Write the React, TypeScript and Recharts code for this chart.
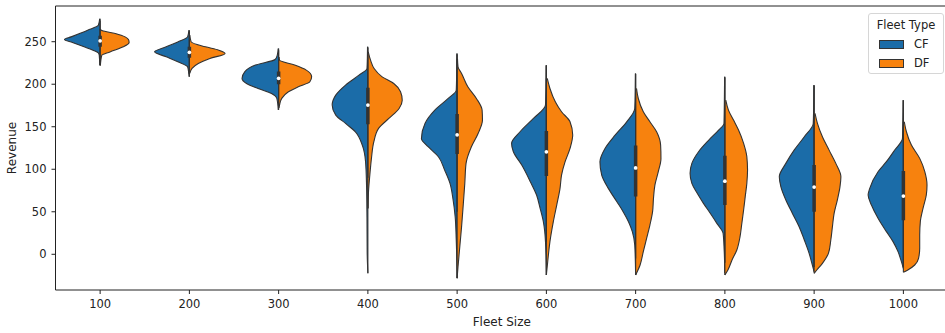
import {
  ComposedChart,
  Area,
  Line,
  Scatter,
  XAxis,
  YAxis,
  ZAxis,
  ReferenceLine,
  Legend,
} from "recharts";

const fleetSizes = [100, 200, 300, 400, 500, 600, 700, 800, 900, 1000];
const fleetTypes = ["CF", "DF"];
const revenueTicks = [0, 50, 100, 150, 200, 250];

// [revenue, half width as a share of one category step], read top to bottom
const cfProfiles: [number, number][][] = [
  [[277, 0.005], [269.4, 0.02], [263.6, 0.14], [259.7, 0.23], [255.7, 0.325], [252.6, 0.4], [249.1, 0.31], [244, 0.18], [240.1, 0.08], [236.9, 0.02], [234.2, 0.01], [222.4, 0.004]],
  [[263.6, 0.005], [255.7, 0.02], [249.8, 0.13], [244, 0.26], [238.1, 0.39], [232.3, 0.26], [226.4, 0.13], [220.5, 0.02], [214, 0.008], [208.7, 0.003]],
  [[242, 0.005], [234.2, 0.015], [229.1, 0.04], [222.5, 0.26], [214.6, 0.38], [206.8, 0.41], [200.9, 0.36], [195, 0.23], [189.2, 0.08], [183.3, 0.02], [169.6, 0.004]],
  [[244, 0.004], [230, 0.006], [218.5, 0.01], [210.7, 0.1], [199, 0.25], [187.2, 0.36], [175.5, 0.4], [163.7, 0.36], [153.9, 0.25], [144.1, 0.14], [128.5, 0.063], [108.9, 0.026], [81.5, 0.015], [42.3, 0.01], [3.2, 0.008], [-22.3, 0]],
  [[236.2, 0.003], [212.7, 0.005], [193, 0.01], [183.3, 0.1], [169.5, 0.25], [153.9, 0.36], [136.2, 0.4], [126.5, 0.325], [114.7, 0.21], [99, 0.14], [83.4, 0.08], [63.8, 0.045], [44.2, 0.022], [16.8, 0.01], [-28.3, 0]],
  [[222.4, 0.003], [195, 0.005], [175.4, 0.01], [159.8, 0.145], [144.1, 0.295], [130.4, 0.39], [120.6, 0.37], [104.9, 0.276], [85.4, 0.18], [69.7, 0.11], [54, 0.07], [38.4, 0.034], [14.9, 0.01], [-24.3, 0]],
  [[212.6, 0.003], [191, 0.005], [171.5, 0.01], [155.8, 0.1], [140.1, 0.23], [124.5, 0.343], [108.8, 0.4], [93.1, 0.38], [77.5, 0.306], [61.8, 0.21], [50.1, 0.14], [38.3, 0.08], [26.6, 0.037], [10.9, 0.01], [-24.4, 0]],
  [[208.8, 0.003], [177.4, 0.006], [153.9, 0.01], [146.1, 0.07], [134.3, 0.18], [120.6, 0.295], [106.9, 0.37], [95.2, 0.39], [83.4, 0.37], [71.7, 0.31], [59.9, 0.24], [48.2, 0.164], [36.4, 0.09], [24.7, 0.02], [5.1, 0.008], [-22.3, 0]],
  [[199, 0.003], [169.5, 0.006], [153.9, 0.01], [138.2, 0.11], [122.5, 0.224], [106.9, 0.317], [91.2, 0.39], [79.5, 0.373], [63.8, 0.317], [48.1, 0.243], [32.5, 0.168], [16.8, 0.11], [1.1, 0.056], [-12.6, 0.02], [-20.4, 0]],
  [[181.3, 0.003], [155.9, 0.006], [136.3, 0.01], [122.6, 0.097], [108.9, 0.19], [97.1, 0.284], [77.5, 0.377], [69.7, 0.395], [57.9, 0.358], [42.3, 0.284], [26.6, 0.19], [14.9, 0.116], [3.1, 0.06], [-8.7, 0.022], [-16.5, 0]],
];

const dfProfiles: [number, number][][] = [
  [[265, 0.004], [263.6, 0.01], [259.7, 0.17], [255.7, 0.28], [252.6, 0.317], [249.1, 0.325], [244, 0.26], [238, 0.11], [234.2, 0.02], [228, 0.008], [222, 0.003]],
  [[257.7, 0.005], [249.8, 0.02], [244, 0.18], [240, 0.33], [236.2, 0.4], [230.3, 0.23], [224.4, 0.1], [218.6, 0.03], [212.7, 0.005]],
  [[232, 0.004], [228.4, 0.01], [222.5, 0.18], [216.6, 0.31], [208.8, 0.37], [202.9, 0.35], [197, 0.22], [191.1, 0.11], [183.3, 0.035], [175.4, 0.01], [172, 0.003]],
  [[238.1, 0.004], [228.3, 0.03], [218.5, 0.07], [208.7, 0.16], [200.9, 0.29], [191.1, 0.366], [181.3, 0.385], [171.5, 0.35], [159.8, 0.235], [148.1, 0.12], [132.4, 0.067], [112.8, 0.04], [93.2, 0.022], [73.6, 0.007], [54, 0.002]],
  [[230, 0.004], [220.5, 0.01], [212.7, 0.05], [197, 0.12], [183.3, 0.216], [169.5, 0.28], [157.8, 0.284], [142.1, 0.235], [126.5, 0.16], [106.9, 0.1], [83.4, 0.086], [56, 0.067], [32.5, 0.05], [9, 0.03], [-14.6, 0.01], [-28, 0]],
  [[206.8, 0.01], [195, 0.04], [179.4, 0.1], [167.6, 0.17], [155.9, 0.265], [140.2, 0.295], [124.5, 0.265], [108.9, 0.21], [93.2, 0.17], [77.5, 0.153], [57.9, 0.116], [38.4, 0.078], [14.9, 0.04], [-8.7, 0.015], [-24.3, 0]],
  [[195, 0.01], [183.2, 0.03], [167.6, 0.086], [155.8, 0.16], [144.1, 0.235], [128.4, 0.28], [112.7, 0.284], [97.1, 0.254], [81.4, 0.216], [65.7, 0.2], [50.1, 0.19], [34.4, 0.16], [18.7, 0.123], [3.1, 0.086], [-12.6, 0.05], [-24.4, 0]],
  [[181.3, 0.01], [169.6, 0.04], [157.8, 0.097], [146.1, 0.153], [130.4, 0.21], [114.8, 0.246], [99.1, 0.254], [83.4, 0.246], [67.8, 0.228], [52.1, 0.21], [36.4, 0.19], [20.8, 0.17], [5.1, 0.134], [-6.7, 0.08], [-18.4, 0.034], [-24.3, 0]],
  [[165.6, 0.01], [153.9, 0.037], [138.2, 0.093], [122.5, 0.168], [106.9, 0.243], [91.2, 0.3], [79.5, 0.29], [63.8, 0.26], [48.1, 0.224], [32.5, 0.205], [16.8, 0.187], [1.1, 0.16], [-10.6, 0.093], [-18.5, 0.03], [-22.4, 0]],
  [[155.9, 0.01], [144.1, 0.034], [128.4, 0.09], [112.8, 0.183], [97.1, 0.24], [81.4, 0.265], [69.7, 0.257], [54, 0.22], [38.4, 0.19], [22.7, 0.183], [7, 0.183], [-4.7, 0.17], [-12.6, 0.127], [-18.4, 0.05], [-21.2, 0]],
];

const medians = [251, 237.5, 207, 175.5, 140.5, 120.5, 101.5, 86, 79, 68.5];
const quartile1 = [244, 231, 200, 153, 118, 92, 68, 58, 50, 40];
const quartile3 = [257, 244, 215, 196, 165, 145, 128, 116, 105, 98];
const whiskerLow = [226, 212, 175, 90, 50, 15, -5, -10, -15, -15];
const whiskerHigh = [275, 262, 240, 243, 235, 222, 212, 208, 198, 181];

const BLUE = "#1b6ca8";
const ORANGE = "#f7820e";
const EDGE = "#333333";
const INK = "#222222";

function halfViolin(profile: [number, number][], center: number, side: number) {
  return profile.map(([y, w]) => ({
    y,
    band: side < 0 ? [center - w, center] : [center, center + w],
  }));
}

function FleetLegend() {
  const colors = [BLUE, ORANGE];
  return (
    <div
      style={{
        position: "relative",
        width: 76,
        height: 61,
        boxSizing: "border-box",
        border: "1px solid #d6d6d6",
        borderRadius: 3,
        background: "rgba(255,255,255,0.85)",
        fontSize: 11.5,
        color: INK,
        lineHeight: "14px",
      }}
    >
      <div style={{ position: "absolute", top: 4, left: 0, width: "100%", textAlign: "center" }}>
        Fleet Type
      </div>
      {fleetTypes.map((t, k) => (
        <div
          key={t}
          style={{ position: "absolute", top: 23 + k * 19, left: 10, height: 14, display: "flex", alignItems: "center" }}
        >
          <span
            style={{
              display: "inline-block",
              width: 25,
              height: 9,
              boxSizing: "border-box",
              background: colors[k],
              border: `0.8px solid ${EDGE}`,
            }}
          />
          <span style={{ marginLeft: 10 }}>{t}</span>
        </div>
      ))}
    </div>
  );
}

export default function App() {
  const tickFont = { fill: INK, fontSize: 11.5 };
  return (
    <div
      style={{
        position: "fixed",
        left: 0,
        top: 0,
        width: 945,
        height: 333,
        overflow: "hidden",
        background: "#fff",
        fontFamily: "DejaVu Sans, sans-serif",
      }}
    >
      <ComposedChart
        layout="vertical"
        width={960}
        height={333}
        margin={{ top: 6, right: 12, bottom: 7, left: 0 }}
      >
        <XAxis
          type="number"
          dataKey="x"
          domain={[-0.5, 9.5]}
          ticks={fleetSizes.map((_, i) => i)}
          tickFormatter={(i: number) => String(fleetSizes[i])}
          interval={0}
          allowDataOverflow
          height={36}
          tickSize={4}
          tickMargin={6}
          stroke={INK}
          tick={tickFont}
          label={{ value: "Fleet Size", position: "insideBottom", offset: 0, fill: INK, fontSize: 12 }}
        />
        <YAxis
          type="number"
          dataKey="y"
          domain={[-42, 292]}
          ticks={revenueTicks}
          reversed
          allowDataOverflow
          width={55.5}
          tickSize={4}
          tickMargin={5}
          stroke={INK}
          tick={tickFont}
          label={{
            value: "Revenue",
            angle: -90,
            position: "insideLeft",
            offset: 12,
            fill: INK,
            fontSize: 12,
            style: { textAnchor: "middle" },
          }}
        />
        <ZAxis range={[11, 11]} />
        <ReferenceLine y={292} stroke={INK} />
        <ReferenceLine x={9.5} stroke={INK} />

        {cfProfiles.map((p, i) => (
          <Area
            key={`cf-${i}`}
            data={halfViolin(p, i, -1)}
            dataKey="band"
            type="monotone"
            fill={BLUE}
            fillOpacity={1}
            stroke={EDGE}
            strokeWidth={1.1}
            isAnimationActive={false}
          />
        ))}
        {dfProfiles.map((p, i) => (
          <Area
            key={`df-${i}`}
            data={halfViolin(p, i, 1)}
            dataKey="band"
            type="monotone"
            fill={ORANGE}
            fillOpacity={1}
            stroke={EDGE}
            strokeWidth={1.1}
            isAnimationActive={false}
          />
        ))}

        {fleetSizes.map((_, i) => (
          <Line
            key={`wh-${i}`}
            data={[
              { x: i, y: whiskerLow[i] },
              { x: i, y: whiskerHigh[i] },
            ]}
            dataKey="x"
            type="linear"
            stroke={EDGE}
            strokeWidth={1.2}
            dot={false}
            isAnimationActive={false}
          />
        ))}
        {fleetSizes.map((_, i) => (
          <Line
            key={`box-${i}`}
            data={[
              { x: i, y: quartile1[i] },
              { x: i, y: quartile3[i] },
            ]}
            dataKey="x"
            type="linear"
            stroke={EDGE}
            strokeWidth={3.5}
            dot={false}
            isAnimationActive={false}
          />
        ))}
        <Scatter
          data={medians.map((m, i) => ({ x: i, y: m }))}
          fill="#ffffff"
          shape="circle"
          isAnimationActive={false}
        />

        <Legend
          layout="vertical"
          align="center"
          verticalAlign="middle"
          wrapperStyle={{ left: 868, top: 13, width: 76, height: 61 }}
          content={() => <FleetLegend />}
        />
      </ComposedChart>
    </div>
  );
}
